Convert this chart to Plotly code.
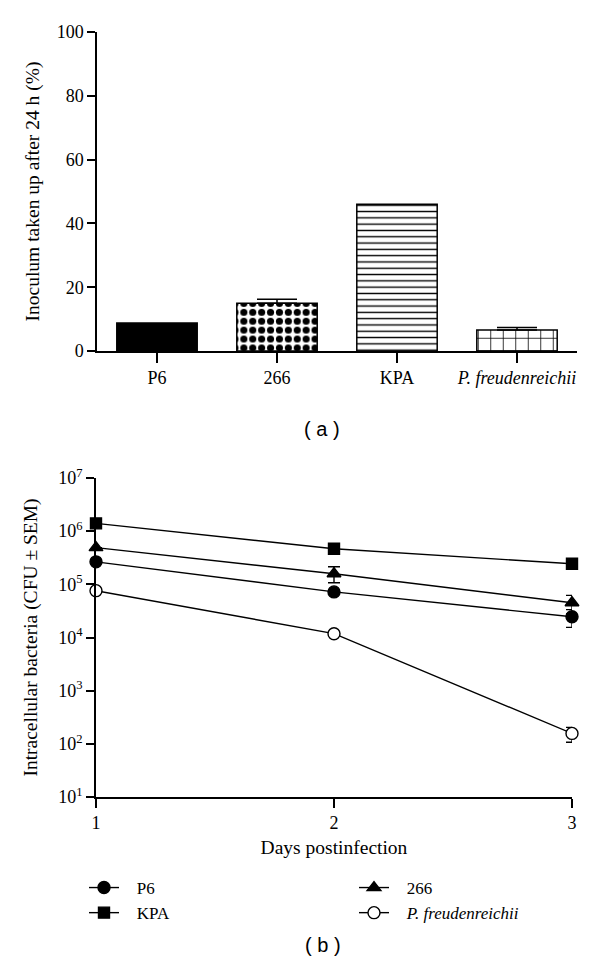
import plotly.graph_objects as go

# ---- Data: panel (a) ----
strains = ["P6", "266", "KPA", "<i>P. freudenreichii</i>"]
uptake_pct = [8.8, 15.0, 46.0, 6.6]
uptake_err = [0.0, 1.25, 0.0, 0.75]

# ---- Data: panel (b) ----
days = [1, 2, 3]
p6_cfu = [2.65e5, 7.2e4, 2.45e4]
p6_err = [0, 0, 9.0e3]
s266_cfu = [4.9e5, 1.58e5, 4.5e4]
s266_err_plus = [0, 5.6e4, 1.7e4]
s266_err_minus = [0, 5.1e4, 1.7e4]
kpa_cfu = [1.40e6, 4.66e5, 2.44e5]
kpa_err = [0, 0, 0]
pf_cfu = [7.6e4, 1.18e4, 157]
pf_err_plus = [0, 0, 47]
pf_err_minus = [0, 0, 50]
y_tickvals = [1e1, 1e2, 1e3, 1e4, 1e5, 1e6, 1e7]
y_ticktext = ["10<sup>1</sup>", "10<sup>2</sup>", "10<sup>3</sup>", "10<sup>4</sup>",
              "10<sup>5</sup>", "10<sup>6</sup>", "10<sup>7</sup>"]

W, H = 600, 974
OFF = 8  # page offset of the plot div (default body margin)
SERIF = "Liberation Serif"
SANS = "Liberation Sans"
TICK = 18
TITLE = 19.5

def px(x):
    return (x - OFF) / W

def py(y):
    return 1 - (y - OFF) / H

fig = go.Figure()

patterns = [
    dict(shape="", fillmode="replace"),
    dict(shape=".", fgcolor="black", bgcolor="white", size=8.9, solidity=0.5, fillmode="replace"),
    dict(shape="-", fgcolor="black", bgcolor="white", size=6.3, solidity=0.22, fillmode="replace"),
    dict(shape="+", fgcolor="black", bgcolor="white", size=12.5, solidity=0.12, fillmode="replace"),
]
colors = ["black", "white", "white", "white"]
for i, s in enumerate(strains):
    fig.add_trace(go.Bar(
        x=[s], y=[uptake_pct[i]], width=0.67,
        marker=dict(color=colors[i], pattern=patterns[i], line=dict(color="black", width=1.5)),
        error_y=dict(type="data", array=[uptake_err[i]], arrayminus=[0], color="black",
                     thickness=1.5, width=20, visible=uptake_err[i] > 0),
        xaxis="x", yaxis="y", showlegend=False,
    ))

NB = "&nbsp;&nbsp;&nbsp;"

def line_trace(name, y, ep, em, symbol, fill, legend):
    return go.Scatter(
        x=days, y=y, name=NB + name, mode="lines+markers",
        line=dict(color="black", width=1.4),
        marker=dict(symbol=symbol, size=12 if symbol != "square" else 11, color=fill,
                    line=dict(color="black", width=1.4)),
        error_y=dict(type="data", array=ep, arrayminus=em, color="black", thickness=1.4, width=6),
        cliponaxis=False, xaxis="x2", yaxis="y2", legend=legend,
    )

fig.add_trace(line_trace("P6", p6_cfu, p6_err, p6_err, "circle", "black", "legend"))
fig.add_trace(line_trace("266", s266_cfu, s266_err_plus, s266_err_minus, "triangle-up", "black", "legend2"))
fig.add_trace(line_trace("KPA", kpa_cfu, kpa_err, kpa_err, "square", "black", "legend"))
fig.add_trace(line_trace("<i>P. freudenreichii</i>", pf_cfu, pf_err_plus, pf_err_minus, "circle", "white", "legend2"))

axis_common = dict(showline=True, linecolor="black", linewidth=1.5, ticks="outside",
                   tickwidth=1.5, tickcolor="black", showgrid=False, zeroline=False,
                   automargin=False,
                   tickfont=dict(family=SERIF, size=TICK, color="black"))

legend_common = dict(orientation="v", xanchor="left", yanchor="top", tracegroupgap=0,
                     font=dict(family=SERIF, size=17, color="black"),
                     bgcolor="rgba(0,0,0,0)")

fig.update_layout(
    width=W, height=H, margin=dict(l=0, r=0, t=0, b=0, autoexpand=False),
    paper_bgcolor="white", plot_bgcolor="white", barmode="overlay",
    font=dict(family=SERIF, size=TICK, color="black"),
    xaxis=dict(domain=[px(97), px(577)], anchor="y", type="category",
               range=[-0.5, 3.5], ticklen=10, **axis_common),
    yaxis=dict(domain=[py(351), py(32)], anchor="x", range=[0, 100],
               tickvals=[0, 20, 40, 60, 80, 100], ticklen=8,
               title=dict(text="Inoculum taken up after 24 h (%)",
                          font=dict(family=SERIF, size=TITLE), standoff=12),
               **axis_common),
    xaxis2=dict(domain=[px(96), px(572)], anchor="y2", range=[1, 3], tickvals=days, ticklen=9,
                title=dict(text="Days postinfection", font=dict(family=SERIF, size=TITLE), standoff=8),
                **axis_common),
    yaxis2=dict(domain=[py(797), py(478)], anchor="x2", type="log", range=[1, 7],
                tickvals=y_tickvals, ticktext=y_ticktext, ticklen=8,
                title=dict(text="Intracellular bacteria (CFU ± SEM)",
                           font=dict(family=SERIF, size=TITLE), standoff=16),
                **axis_common),
    legend=dict(x=px(84), y=py(870), **legend_common),
    legend2=dict(x=px(354), y=py(870), **legend_common),
    annotations=[
        dict(text="( a )", x=px(322), y=py(429), xref="paper", yref="paper",
             showarrow=False, font=dict(family=SANS, size=20, color="black")),
        dict(text="( b )", x=px(323), y=py(958), xref="paper", yref="paper",
             showarrow=False, font=dict(family=SANS, size=20, color="black")),
    ],
)

fig.write_html("out.html")
